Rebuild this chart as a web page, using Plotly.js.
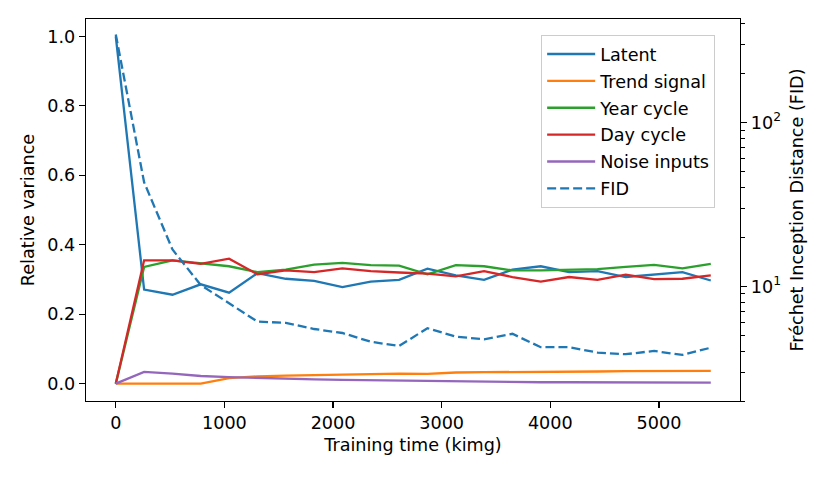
<!DOCTYPE html>
<html>
<head>
<meta charset="utf-8">
<script src="https://cdn.plot.ly/plotly-3.0.1.min.js"></script>
<style>
  html, body { margin: 0; padding: 0; background: #fff; }
  #myDiv { width: 830px; height: 477px; }
</style>
</head>
<body>
<div id="myDiv"></div>
<script>
// training time in kimg
var kimg = [0, 261, 522, 782, 1043, 1304, 1565, 1826, 2086, 2347, 2608,
            2869, 3130, 3390, 3651, 3912, 4173, 4434, 4694, 4955, 5216, 5477];

// relative variance per input
var latent = [1.0, 0.271, 0.256, 0.286, 0.262, 0.318, 0.302, 0.296, 0.278, 0.294, 0.299,
              0.331, 0.312, 0.299, 0.328, 0.338, 0.321, 0.324, 0.307, 0.315, 0.321, 0.297];
var trendSignal = [0, 0, 0, 0, 0.016, 0.021, 0.023, 0.025, 0.026, 0.028, 0.029,
                   0.028, 0.032, 0.033, 0.033, 0.034, 0.035, 0.035, 0.036, 0.036, 0.037, 0.037];
var yearCycle = [0, 0.336, 0.355, 0.347, 0.338, 0.321, 0.328, 0.343, 0.348, 0.341, 0.340,
                 0.315, 0.341, 0.338, 0.326, 0.326, 0.329, 0.330, 0.336, 0.342, 0.332, 0.345];
var dayCycle = [0, 0.355, 0.355, 0.345, 0.360, 0.315, 0.326, 0.321, 0.332, 0.324, 0.320,
                0.317, 0.309, 0.324, 0.307, 0.294, 0.307, 0.299, 0.314, 0.301, 0.302, 0.312];
var noiseInputs = [0, 0.034, 0.029, 0.022, 0.019, 0.016, 0.014, 0.012, 0.011, 0.010, 0.009,
                   0.007, 0.005, 0.004, 0.004, 0.004, 0.004, 0.004, 0.003, 0.003, 0.003, 0.003];

// FID on the right (log) axis
var fid = [345, 43.2, 16.8, 10.2, 7.9, 6.1, 6.0, 5.5, 5.2, 4.6, 4.33,
           5.56, 4.94, 4.76, 5.14, 4.26, 4.26, 3.95, 3.86, 4.04, 3.82, 4.23];

var xTicks = [0, 1000, 2000, 3000, 4000, 5000];
var yTicks = [0.0, 0.2, 0.4, 0.6, 0.8, 1.0];
var yTickText = ['0.0', '0.2', '0.4', '0.6', '0.8', '1.0'];
var fidTicks = [10, 100];
var fidTickText = ['10<sup>1</sup>', '10<sup>2</sup>'];
var fidMinor = [2, 3, 4, 5, 6, 7, 8, 9, 20, 30, 40, 50, 60, 70, 80, 90, 200, 300, 400];

var font = 'DejaVu Sans, sans-serif';
var fsize = 17.6;

var series = [
  ['Latent', latent, '#1f77b4'],
  ['Trend signal', trendSignal, '#ff7f0e'],
  ['Year cycle', yearCycle, '#2ca02c'],
  ['Day cycle', dayCycle, '#d62728'],
  ['Noise inputs', noiseInputs, '#9467bd']
];

var data = [];
for (var i = 0; i < series.length; i++) {
  data.push({
    x: kimg,
    y: series[i][1],
    mode: 'lines',
    type: 'scatter',
    name: series[i][0],
    legendgroup: 'g' + i,
    line: {color: series[i][2], width: 2.3},
    hoverinfo: 'skip'
  });
}
data.push({
  x: kimg,
  y: fid,
  yaxis: 'y2',
  mode: 'lines',
  type: 'scatter',
  name: 'FID',
  legendgroup: 'g5',
  line: {color: '#1f77b4', width: 2.3, dash: '9px,4px'},
  hoverinfo: 'skip'
});

var axisCommon = {
  showgrid: false,
  zeroline: false,
  showline: true,
  linecolor: 'black',
  linewidth: 1.3,
  ticks: 'outside',
  ticklen: 6,
  tickwidth: 1.3,
  tickcolor: 'black',
  tickfont: {family: font, size: fsize, color: 'black'}
};

var layout = {
  width: 830,
  height: 477,
  margin: {l: 86, r: 90, t: 19, b: 76},
  paper_bgcolor: 'white',
  plot_bgcolor: 'white',
  font: {family: font, size: fsize, color: 'black'},
  showlegend: true,
  legend: {
    x: 0.962, y: 0.958, xanchor: 'right', yanchor: 'top',
    bgcolor: 'rgba(255,255,255,0.8)',
    bordercolor: '#cccccc',
    borderwidth: 1,
    traceorder: 'grouped',
    tracegroupgap: 1,
    itemwidth: 48,
    font: {family: font, size: fsize, color: 'black'}
  },
  xaxis: Object.assign({}, axisCommon, {
    range: [-274, 5746],
    tickvals: xTicks,
    mirror: true,
    title: {text: 'Training time (kimg)', font: {family: font, size: fsize}, standoff: 6}
  }),
  yaxis: Object.assign({}, axisCommon, {
    range: [-0.05, 1.05],
    tickvals: yTicks,
    ticktext: yTickText,
    title: {text: 'Relative variance', font: {family: font, size: fsize}, standoff: 8}
  }),
  yaxis2: Object.assign({}, axisCommon, {
    type: 'log',
    overlaying: 'y',
    side: 'right',
    range: [0.301, 2.632],
    tickvals: fidTicks,
    ticktext: fidTickText,
    minor: {tickvals: fidMinor, ticks: 'outside', ticklen: 3.5, tickwidth: 1, tickcolor: 'black', showgrid: false},
    title: {text: 'Fréchet Inception Distance (FID)', font: {family: font, size: fsize}, standoff: 10}
  })
};

Plotly.newPlot('myDiv', data, layout, {staticPlot: true, displayModeBar: false});
</script>
</body>
</html>
